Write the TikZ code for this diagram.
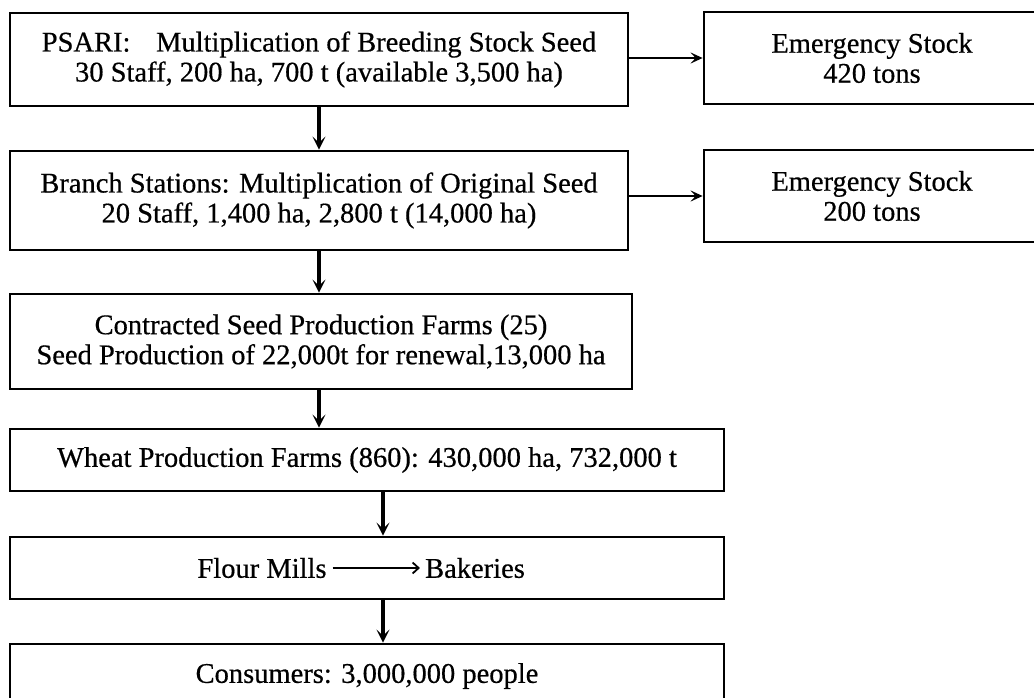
\documentclass[tikz,border=0pt]{standalone}
\usepackage{fontspec}
\setmainfont{Liberation Serif}[FakeBold=0.5]
\usetikzlibrary{arrows.meta}
\begin{document}
\begin{tikzpicture}[x=1pt,y=-1pt,
  box/.style={draw=black,line width=2.8pt,align=center,inner sep=0pt,
    font=\fontsize{28.5}{30}\selectfont},
  label/.style={inner sep=0pt,font=\fontsize{28.5}{30}\selectfont},
  flow/.style={line width=3.2pt,-{Stealth[length=13pt,width=13pt,inset=6pt]}},
  side flow/.style={line width=2pt,-{Stealth[length=12pt,width=11pt,inset=5pt]}},
  thin arrow/.style={line width=1.3pt,-{Straight Barb[length=6pt,width=11pt,line width=1.8pt]}}]
\useasboundingbox (0,0) rectangle (1034,698);
\fill[white] (0,0) rectangle (1034,698);

% seed multiplication chain
\node[box,minimum width=618pt,minimum height=93pt] (psari) at (319,59.5)
  {PSARI:\hspace{0.9em}Multiplication of Breeding Stock Seed\\
   30 Staff, 200 ha, 700 t (available 3,500 ha)};
\node[box,minimum width=618pt,minimum height=99pt] (branch) at (319,200.5)
  {Branch Stations: Multiplication of Original Seed\\
   20 Staff, 1,400 ha, 2,800 t (14,000 ha)};
\node[box,minimum width=622pt,minimum height=95pt] (contract) at (321,341.5)
  {Contracted Seed Production Farms (25)\\
   Seed Production of 22,000t for renewal,13,000 ha};
\node[box,minimum width=714pt,minimum height=62pt] (wheat) at (367,460)
  {Wheat Production Farms (860): 430,000 ha, 732,000 t};
\node[box,minimum width=714pt,minimum height=62pt] (mills) at (367,568) {};
\node[box,minimum width=714pt,minimum height=64pt] (cons) at (367,676)
  {Consumers: 3,000,000 people};

% emergency reserves
\node[box,minimum width=336pt,minimum height=92pt] (em1) at (872,58)
  {Emergency Stock\\420 tons};
\node[box,minimum width=336pt,minimum height=92pt] (em2) at (872,196)
  {Emergency Stock\\200 tons};

% processing inside the mills box
\node[label] (flour) at (262,568) {Flour Mills};
\node[label] (bake) at (475,568) {Bakeries};
\draw[thin arrow] ([xshift=6pt]flour.east) -- ([xshift=-5pt]bake.west);

% connectors
\draw[flow] (psari.south) -- (psari.south |- branch.north);
\draw[flow] (branch.south) -- (branch.south |- contract.north);
\draw[flow] (contract.south -| branch.south) -- (branch.south |- wheat.north);
\draw[flow] ([xshift=16pt]wheat.south) -- ([xshift=16pt]mills.north);
\draw[flow] ([xshift=16pt]mills.south) -- ([xshift=16pt]cons.north);
\draw[side flow] (psari.east |- em1.west) -- (em1.west);
\draw[side flow] (branch.east |- em2.west) -- (em2.west);
\end{tikzpicture}
\end{document}
